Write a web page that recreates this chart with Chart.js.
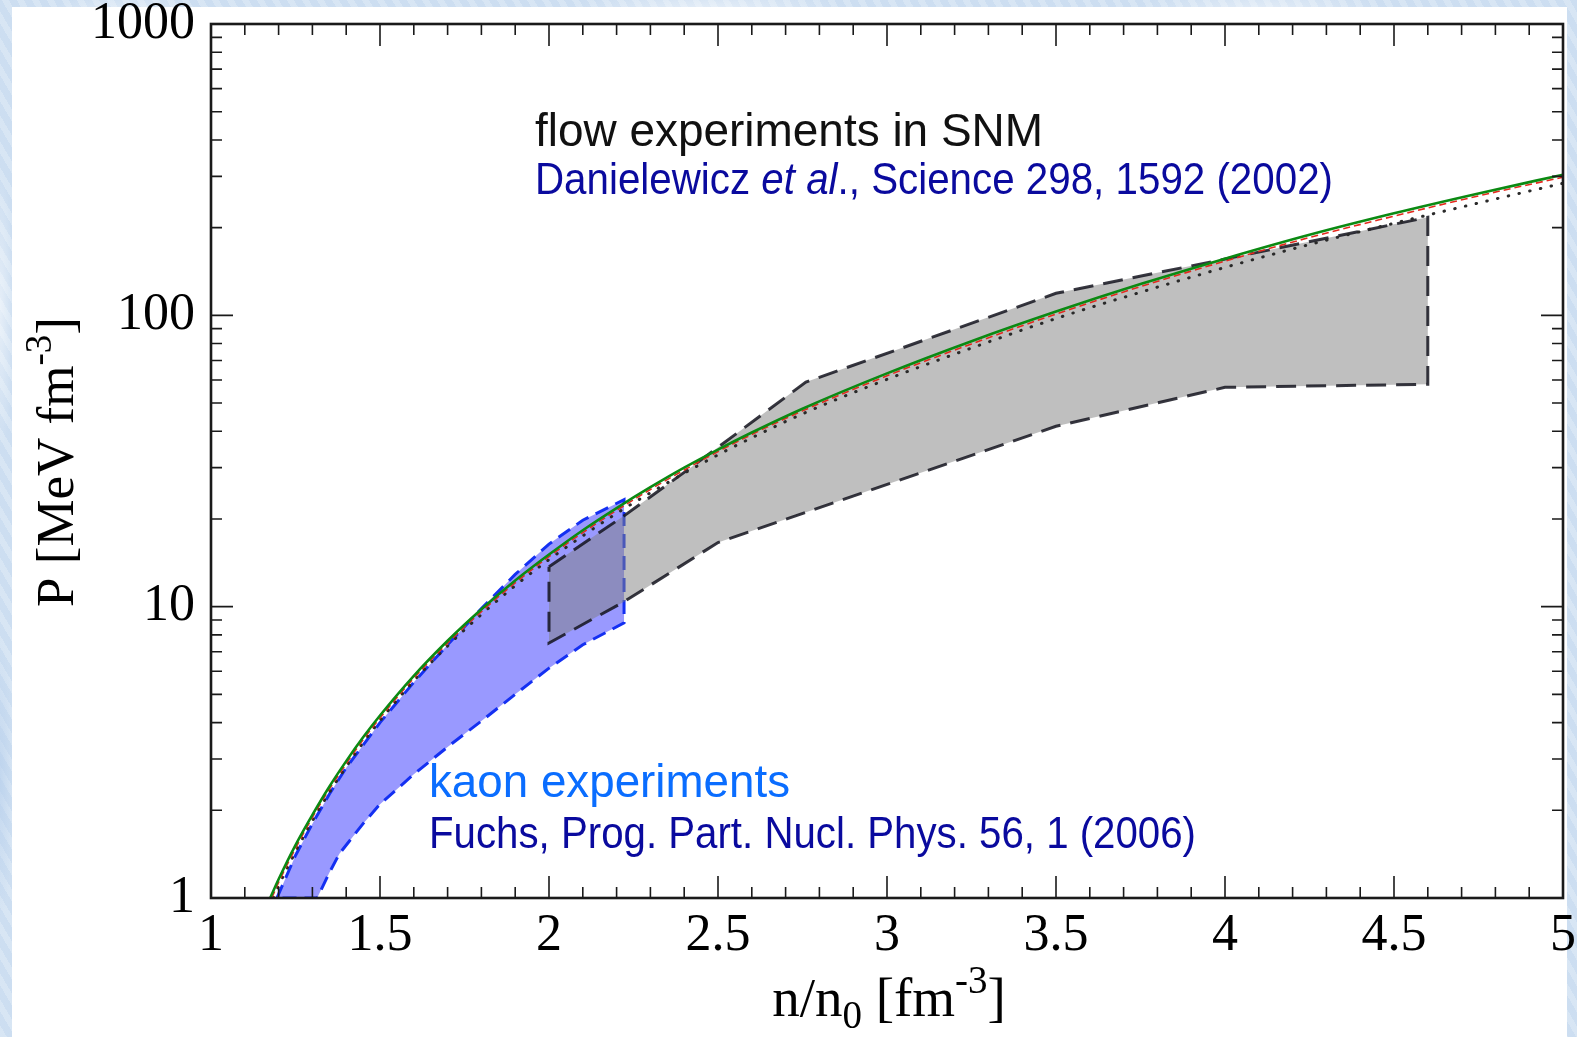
<!DOCTYPE html>
<html>
<head>
<meta charset="utf-8">
<script src="https://cdn.jsdelivr.net/npm/chart.js@4.4.1/dist/chart.umd.min.js"></script>
<style>
  html, body { margin:0; padding:0; width:1577px; height:1037px; overflow:hidden; }
  body {
    background-color:#cfe0f2;
    background-image:
      radial-gradient(ellipse 120px 40px at 8% 2%, rgba(255,255,255,0.55), rgba(255,255,255,0) 70%),
      radial-gradient(ellipse 200px 30px at 45% 1%, rgba(255,255,255,0.5), rgba(255,255,255,0) 70%),
      radial-gradient(ellipse 180px 30px at 80% 1%, rgba(255,255,255,0.45), rgba(255,255,255,0) 70%),
      radial-gradient(ellipse 20px 200px at 0% 30%, rgba(255,255,255,0.5), rgba(255,255,255,0) 70%),
      radial-gradient(ellipse 20px 200px at 0% 75%, rgba(180,205,235,0.6), rgba(255,255,255,0) 70%),
      repeating-linear-gradient(60deg, rgba(255,255,255,0.18) 0 6px, rgba(190,210,235,0.15) 6px 13px);
  }
  #panel { position:absolute; left:12px; top:7px; width:1555px; height:1030px; background:#ffffff; }
  #c { position:absolute; left:0; top:0; }
</style>
</head>
<body>
<div id="panel"></div>
<canvas id="c" width="1577" height="1037"></canvas>
<script>
// ---------------- data ----------------
// theory curve (green, solid)
const greenX = [1.175, 1.2, 1.25, 1.3, 1.35, 1.4, 1.45, 1.5, 1.6, 1.7, 1.8, 1.9, 2.0, 2.1, 2.2, 2.3, 2.4, 2.5, 2.6, 2.75, 3.0, 3.25, 3.5, 3.75, 4.0, 4.25, 4.5, 4.75, 5.0];
const greenP = [1.0, 1.16, 1.52, 1.93, 2.41, 2.95, 3.56, 4.23, 5.79, 7.64, 9.8, 12.3, 15.1, 18.3, 21.8, 25.7, 30.0, 34.6, 39.6, 47.8, 63.2, 81.5, 103, 128, 156.5, 189, 224, 262, 304];
// red dashed curve
const redX = [1.18, 1.2, 1.25, 1.3, 1.35, 1.4, 1.45, 1.5, 1.6, 1.7, 1.8, 1.9, 2.0, 2.1, 2.2, 2.3, 2.4, 2.5, 2.6, 2.75, 3.0, 3.25, 3.5, 3.75, 4.0, 4.25, 4.5, 4.75, 5.0];
const redP = [1.0, 1.13, 1.48, 1.89, 2.36, 2.89, 3.49, 4.15, 5.68, 7.5, 9.62, 12.07, 14.85, 17.95, 21.4, 25.25, 29.45, 34.05, 39.0, 47.0, 62.0, 79.8, 101, 125.5, 153.5, 185, 219, 257, 298];
// black dotted curve
const dotX = [1.185, 1.2, 1.25, 1.3, 1.35, 1.4, 1.45, 1.5, 1.6, 1.7, 1.8, 1.9, 2.0, 2.1, 2.2, 2.3, 2.4, 2.5, 2.6, 2.75, 3.0, 3.25, 3.5, 3.75, 4.0, 4.25, 4.5, 4.75, 5.0];
const dotP = [1.0, 1.1, 1.44, 1.84, 2.3, 2.82, 3.41, 4.06, 5.56, 7.33, 9.4, 11.8, 14.5, 17.5, 20.9, 24.6, 28.7, 33.2, 38.0, 45.9, 60.3, 77.2, 97.5, 120, 146, 175, 207, 243, 284];
// kaon experiments band (blue)
const kaonUpperX = [1.195, 1.25, 1.3, 1.35, 1.4, 1.5, 1.6, 1.7, 1.8, 1.9, 2.0, 2.1, 2.222];
const kaonUpperP = [1.0, 1.4, 1.8, 2.27, 2.8, 4.0, 5.5, 7.4, 9.85, 12.9, 16.4, 19.8, 23.3];
const kaonLowerX = [1.314, 1.35, 1.38, 1.45, 1.5, 1.6, 1.7, 1.8, 1.9, 2.0, 2.1, 2.222];
const kaonLowerP = [1.0, 1.22, 1.42, 1.8, 2.1, 2.66, 3.3, 4.05, 5.0, 6.15, 7.4, 8.8];
// flow experiments band (grey)
const flowUpperX = [2.0, 2.222, 2.4, 2.76, 3.5, 4.0, 4.6];
const flowUpperP = [13.7, 20.5, 28.9, 59, 119, 156, 217];
const flowLowerX = [2.0, 2.222, 2.5, 3.5, 4.0, 4.6];
const flowLowerP = [7.5, 10.4, 16.6, 41.6, 56.6, 58];
// axes
const xTickValues = [1.0,1.1,1.2,1.3,1.4,1.5,1.6,1.7,1.8,1.9,2.0,2.1,2.2,2.3,2.4,2.5,2.6,2.7,2.8,2.9,3.0,3.1,3.2,3.3,3.4,3.5,3.6,3.7,3.8,3.9,4.0,4.1,4.2,4.3,4.4,4.5,4.6,4.7,4.8,4.9,5.0];
const xTickLabels = ['1','1.5','2','2.5','3','3.5','4','4.5','5'];
const yTickValues = [1,2,3,4,5,6,7,8,9,10,20,30,40,50,60,70,80,90,100,200,300,400,500,600,700,800,900,1000];
const yTickLabels = ['1','10','100','1000'];
const xTitle = [['n/n',''],['0','sub'],[' [fm',''],['-3','sup'],[']','']];
const yTitle = [['P [MeV fm',''],['-3','sup'],[']','']];
const notes = [
  {text:[['flow experiments in SNM','n']], color:'#111111'},
  {text:[['Danielewicz ','n'],['et al','i'],['., Science 298, 1592 (2002)','n']], color:'#0a0a9e'},
  {text:[['kaon experiments','n']], color:'#0a6dff'},
  {text:[['Fuchs, Prog. Part. Nucl. Phys. 56, 1 (2006)','n']], color:'#0a0a9e'}
];
// ----------------------------------------------------------------

const pts = (xs, ys) => xs.map((x, i) => ({x: x, y: ys[i]}));
const polygon = (ux, up, lx, lp) => {
  const top = pts(ux, up);
  const bot = pts(lx, lp).reverse();
  return top.concat(bot, [top[0]]);
};

const SERIF = '"Liberation Serif", "Times New Roman", serif';
const SANS = '"Liberation Sans", Arial, sans-serif';

function fmtX(v) {
  const s = String(Math.round(v * 10) / 10);
  return xTickLabels.includes(s) ? s : '';
}
function fmtY(v) {
  const s = String(Math.round(v));
  return yTickLabels.includes(s) ? s : '';
}

const frameTicks = {
  id: 'frameTicks',
  afterDatasetsDraw(chart) {
    const {ctx, chartArea: a, scales: {x, y}} = chart;
    ctx.save();
    ctx.strokeStyle = '#1a1a1a';
    ctx.lineWidth = 1.6;
    ctx.beginPath();
    x.ticks.forEach(t => {
      const px = x.getPixelForValue(t.value);
      const len = fmtX(t.value) ? 22 : 11;
      ctx.moveTo(px, a.bottom); ctx.lineTo(px, a.bottom - len);
      ctx.moveTo(px, a.top); ctx.lineTo(px, a.top + len);
    });
    y.ticks.forEach(t => {
      const py = y.getPixelForValue(t.value);
      const len = fmtY(t.value) ? 22 : 11;
      ctx.moveTo(a.left, py); ctx.lineTo(a.left + len, py);
      ctx.moveTo(a.right, py); ctx.lineTo(a.right - len, py);
    });
    ctx.stroke();
    ctx.lineWidth = 2.6;
    ctx.strokeRect(a.left, a.top, a.right - a.left, a.bottom - a.top);
    ctx.restore();
  }
};

function runsWidth(ctx, runs) {
  let w = 0;
  runs.forEach(r => { ctx.font = r.font; r.w = ctx.measureText(r.t).width; w += r.w; });
  return w;
}
function drawRuns(ctx, runs) {
  let cx = 0;
  runs.forEach(r => {
    ctx.font = r.font; ctx.fillStyle = r.color;
    ctx.fillText(r.t, cx, r.dy);
    cx += r.w;
  });
}

const textLayer = {
  id: 'textLayer',
  afterDraw(chart, args, opts) {
    const {ctx, chartArea: a} = chart;
    ctx.save();
    ctx.textBaseline = 'alphabetic';
    ctx.textAlign = 'left';
    opts.notes.forEach((n, i) => {
      const spec = opts.placement[i];
      const runs = n.text.map(([t, st]) => ({
        t: t,
        font: (st === 'i' ? 'italic ' : '') + spec.size + 'px ' + SANS,
        color: n.color, dy: 0
      }));
      const w = runsWidth(ctx, runs);
      const sx = spec.width / w;
      ctx.save();
      ctx.translate(spec.x, spec.y);
      ctx.scale(sx, 1);
      drawRuns(ctx, runs);
      ctx.restore();
    });
    const mk = (parts, big, small) => parts.map(([t, st]) => ({
      t: t,
      font: (st ? small : big) + 'px ' + SERIF,
      color: '#000',
      dy: st === 'sub' ? Math.round(big * 0.22) : (st === 'sup' ? -Math.round(big * 0.42) : 0)
    }));
    const xr = mk(opts.xTitle, opts.xTitleSize, opts.xScriptSize);
    const xw = runsWidth(ctx, xr);
    ctx.save();
    ctx.translate((a.left + a.right) / 2 + opts.xTitleShift - xw / 2, opts.xTitleBaseline);
    drawRuns(ctx, xr);
    ctx.restore();
    const yr = mk(opts.yTitle, opts.yTitleSize, opts.yScriptSize);
    const yw = runsWidth(ctx, yr);
    ctx.save();
    ctx.translate(opts.yTitleBaseline, (a.top + a.bottom) / 2 + opts.yTitleShift);
    ctx.rotate(-Math.PI / 2);
    ctx.translate(-yw / 2, 0);
    drawRuns(ctx, yr);
    ctx.restore();
    ctx.restore();
  }
};

const tickFont = {family: SERIF, size: 52, lineHeight: 1};

new Chart(document.getElementById('c'), {
  type: 'line',
  data: {
    datasets: [
      {label: 'theory', data: pts(greenX, greenP), borderColor: '#0b8a12', borderWidth: 2.6,
       pointRadius: 0, fill: false, cubicInterpolationMode: 'monotone', order: 1},
      {label: 'red', data: pts(redX, redP), borderColor: '#e42a1e', borderWidth: 1.6, borderDash: [7, 4],
       pointRadius: 0, fill: false, cubicInterpolationMode: 'monotone', order: 2},
      {label: 'dotted', data: pts(dotX, dotP), borderColor: '#2a2a2a', borderWidth: 3, borderDash: [0.5, 10.5],
       borderCapStyle: 'round', pointRadius: 0, fill: false, cubicInterpolationMode: 'monotone', order: 3},
      {label: 'flow experiments in SNM', data: polygon(flowUpperX, flowUpperP, flowLowerX, flowLowerP),
       borderColor: 'rgba(20,20,30,0.85)', borderWidth: 3, borderDash: [20, 10],
       backgroundColor: 'rgba(128,128,128,0.5)', fill: 'shape', tension: 0, pointRadius: 0, order: 4},
      {label: 'kaon experiments', data: polygon(kaonUpperX, kaonUpperP, kaonLowerX, kaonLowerP),
       borderColor: '#1430f2', borderWidth: 3, borderDash: [14, 8],
       backgroundColor: 'rgba(0,0,255,0.4)', fill: 'shape', tension: 0, pointRadius: 0, order: 5}
    ]
  },
  options: {
    responsive: false,
    animation: false,
    devicePixelRatio: 1,
    layout: {padding: {top: 24, right: 14, left: 0, bottom: 0}},
    plugins: {
      legend: {display: false},
      tooltip: {enabled: false},
      textLayer: {
        notes: notes,
        placement: [
          {x: 535, y: 146, size: 46, width: 508},
          {x: 535, y: 194, size: 44, width: 798},
          {x: 429, y: 797, size: 46, width: 361},
          {x: 429, y: 848, size: 44, width: 767}
        ],
        xTitle: xTitle, yTitle: yTitle,
        xTitleSize: 55, xScriptSize: 39,
        yTitleSize: 53, yScriptSize: 37,
        xTitleBaseline: 1016, xTitleShift: 2,
        yTitleBaseline: 73, yTitleShift: 1
      }
    },
    scales: {
      x: {
        type: 'linear', min: 1, max: 5, position: 'bottom',
        grid: {display: false}, border: {display: false},
        ticks: {autoSkip: false, maxRotation: 0, minRotation: 0, padding: 4, color: '#000', font: tickFont,
                callback: (v) => fmtX(v)},
        afterBuildTicks: (s) => { s.ticks = xTickValues.map(v => ({value: v})); },
        afterFit: (s) => { s.height = 139; s.paddingLeft = 0; s.paddingRight = 0; }
      },
      y: {
        type: 'logarithmic', min: 1, max: 1000, position: 'left',
        grid: {display: false}, border: {display: false},
        ticks: {autoSkip: false, padding: 8, color: '#000', font: tickFont,
                callback: (v) => fmtY(v)},
        afterBuildTicks: (s) => { s.ticks = yTickValues.map(v => ({value: v})); },
        afterFit: (s) => { s.width = 211; s.paddingTop = 0; s.paddingBottom = 0; }
      }
    }
  },
  plugins: [frameTicks, textLayer]
});
</script>
</body>
</html>
